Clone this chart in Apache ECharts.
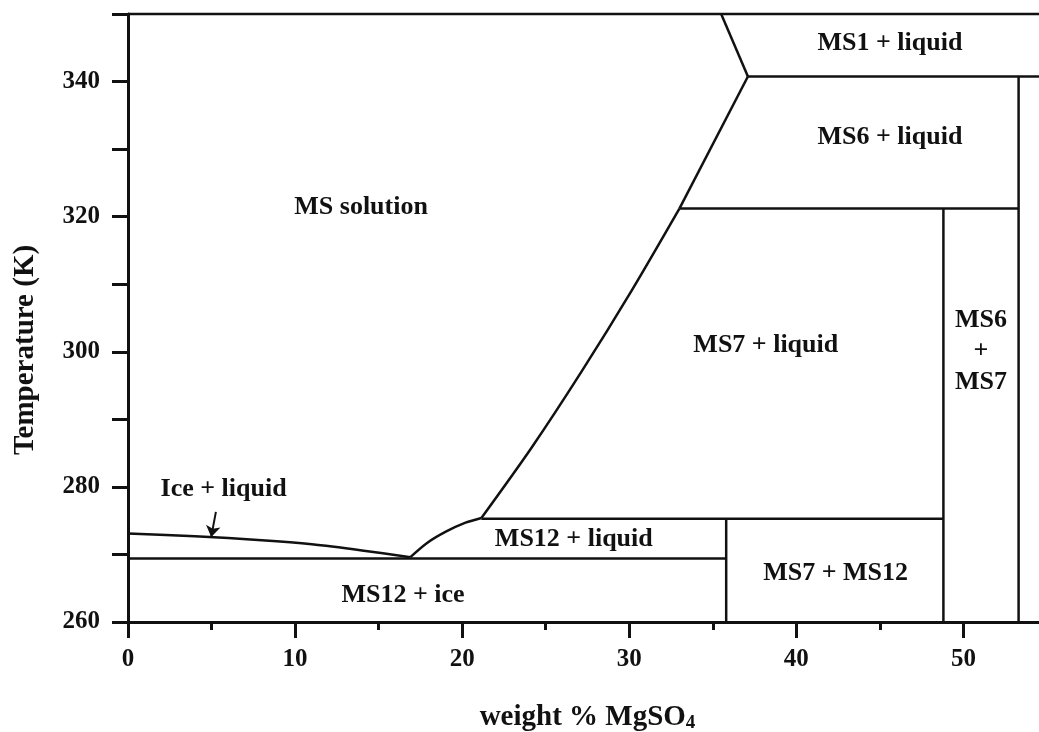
<!DOCTYPE html>
<html><head><meta charset="utf-8">
<script src="https://cdn.jsdelivr.net/npm/echarts@6/dist/echarts.min.js"></script>
<style>html,body{margin:0;padding:0;background:#fff}#c{width:1039px;height:732px}</style>
</head><body><div id="c"></div>
<script>
// ---- data (weight % MgSO4, temperature K) ----
const xTickValues = [0, 10, 20, 30, 40, 50];
const yTickLabels = [260, 280, 300, 320, 340];

const iceLiquidus    = [[0, 273.1], [4, 272.7], [8, 272.1], [11, 271.5], [14, 270.6], [16.9, 269.6]];
const ms12Liquidus   = [[16.9, 269.6], [17.9, 271.7], [19.05, 273.4], [20.2, 274.7], [21.15, 275.4]];
const ms7Liquidus    = [[21.15, 275.4], [24.15, 285.8], [27.15, 297.1], [30.15, 309.1], [33, 321.2]];
const ms6Liquidus    = [[33, 321.2], [37.1, 340.75]];
const ms1Liquidus    = [[37.1, 340.75], [35.5, 350]];
const eutecticLine   = [[0, 269.4], [35.8, 269.4]];
const ms12Peritectic = [[21.15, 275.3], [48.8, 275.3]];
const ms7Peritectic  = [[33, 321.2], [53.3, 321.2]];
const ms6Peritectic  = [[37.1, 340.75], [55, 340.75]];
const topBorder      = [[0, 350], [55, 350]];
const ms12Vertical   = [[35.8, 260], [35.8, 275.3]];
const ms7Vertical    = [[48.8, 260], [48.8, 321.2]];
const ms6Vertical    = [[53.3, 260], [53.3, 340.75]];

const regionNames = ['MS solution', 'MS1 + liquid', 'MS6 + liquid', 'MS7 + liquid', 'MS6\n+\nMS7',
                     'Ice + liquid', 'MS12 + liquid', 'MS12 + ice', 'MS7 + MS12'];
const regionX = [13.95, 45.6, 45.6, 38.17, 51.05, 5.72, 26.68, 16.46, 42.35];
const regionY = [321.4, 345.6, 331.7, 301.0, 300.0, 279.6, 272.2, 263.9, 267.2];

const arrowFrom = [5.26, 276.3];
const arrowTo   = [4.98, 272.6];

// ---- chart ----
const FONT = '"Liberation Serif", "Times New Roman", serif';
const INK = '#111111';
const boundaries = [iceLiquidus, ms12Liquidus, ms7Liquidus, ms6Liquidus, ms1Liquidus,
  eutecticLine, ms12Peritectic, ms7Peritectic, ms6Peritectic, topBorder,
  ms12Vertical, ms7Vertical, ms6Vertical];

const series = boundaries.map(d => ({
  type: 'line', data: d, showSymbol: false, symbol: 'none', smooth: d.length > 2 ? 0.3 : false,
  lineStyle: { color: INK, width: 2.5 }, silent: true, animation: false, clip: false
}));

series.push({
  type: 'scatter', symbolSize: 0, animation: false, silent: true,
  itemStyle: { opacity: 1 },
  data: regionNames.map((n, i) => ({ name: n, value: [regionX[i], regionY[i]] })),
  label: { show: true, position: 'inside', formatter: p => p.name, color: INK, opacity: 1,
           fontFamily: FONT, fontWeight: 'bold', fontSize: 26, lineHeight: 31 }
});

series.push({
  type: 'lines', coordinateSystem: 'cartesian2d', animation: false, silent: true,
  symbol: ['none', 'arrow'], symbolSize: [0, 11],
  lineStyle: { color: INK, width: 2, opacity: 1 },
  data: [{ coords: [arrowFrom, arrowTo] }]
});

const chart = echarts.init(document.getElementById('c'), null, { renderer: 'canvas' });
chart.setOption({
  backgroundColor: '#ffffff',
  animation: false,
  grid: { left: 128, width: 919, top: 14, height: 608, containLabel: false, outerBoundsMode: 'none' },
  xAxis: {
    type: 'value', min: 0, max: 55, interval: 10,
    name: 'weight % MgSO{sub|4}', nameLocation: 'middle', nameGap: 80,
    nameTextStyle: { color: INK, fontFamily: FONT, fontWeight: 'bold', fontSize: 29,
      rich: { sub: { fontFamily: FONT, fontWeight: 'bold', fontSize: 19, padding: [12, 0, 0, 0] } } },
    axisLine: { show: true, lineStyle: { color: INK, width: 3 } },
    axisTick: { show: true, inside: false, length: 16, lineStyle: { color: INK, width: 3 } },
    minorTick: { show: true, splitNumber: 2, length: 8, lineStyle: { color: INK, width: 3 } },
    axisLabel: { color: INK, fontFamily: FONT, fontWeight: 'bold', fontSize: 25, margin: 25,
      formatter: v => (xTickValues.indexOf(v) >= 0 ? String(v) : '') },
    splitLine: { show: false }
  },
  yAxis: {
    type: 'value', min: 260, max: 350, interval: 10,
    name: 'Temperature (K)', nameLocation: 'middle', nameGap: 88,
    nameTextStyle: { color: INK, fontFamily: FONT, fontWeight: 'bold', fontSize: 29, padding: [0, 64, 0, 0] },
    axisLine: { show: true, lineStyle: { color: INK, width: 3 } },
    axisTick: { show: true, inside: false, length: 16, lineStyle: { color: INK, width: 3 } },
    axisLabel: { color: INK, fontFamily: FONT, fontWeight: 'bold', fontSize: 25, margin: 28,
      formatter: v => (yTickLabels.indexOf(v) >= 0 ? String(v) : '') },
    splitLine: { show: false }
  },
  series: series
});
</script></body></html>
